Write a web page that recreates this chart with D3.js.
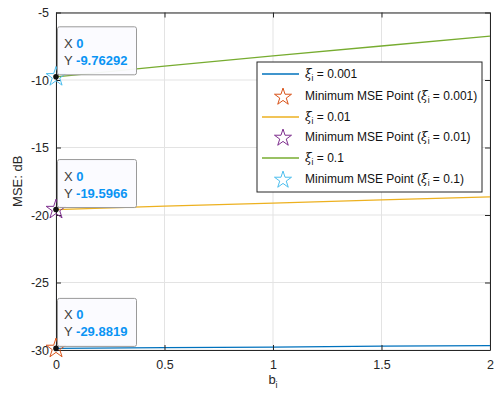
<!DOCTYPE html>
<html><head><meta charset="utf-8">
<script src="https://cdn.jsdelivr.net/npm/d3@7"></script>
<style>body{margin:0;background:#fff;} svg{font-family:"Liberation Sans",Arial,sans-serif;}</style>
</head><body><svg id="c" width="494" height="396"></svg>
<script>
const xs = [0, 0.5, 1, 1.5, 2];
const mse001 = [-29.8819, -29.83, -29.78, -29.72, -29.67];
const mse01 = [-19.5966, -19.35, -19.12, -18.88, -18.65];
const mse1 = [-9.76292, -8.97, -8.22, -7.48, -6.75];
const xTicks = [0, 0.5, 1, 1.5, 2];
const yTicks = [-30, -25, -20, -15, -10, -5];
const seriesNames = ["0.001", "0.01", "0.1"];
const minX = [0, 0, 0];
const minY = [-29.8819, -19.5966, -9.76292];
const minLabels = ["-29.8819", "-19.5966", "-9.76292"];

const lineColors = ["#0072BD", "#EDB120", "#77AC30"];
const starColors = ["#D95319", "#7E2F8E", "#4DBEEE"];
const series = [mse001, mse01, mse1];

const svg = d3.select("#c");
const L = 56, R = 490, T = 12.5, B = 350;
const x = d3.scaleLinear().domain([0, 2]).range([L, R]);
const y = d3.scaleLinear().domain([-30, -5]).range([B, T]);

const g = svg.append("g");
g.selectAll(".gx").data(xTicks).enter().append("line")
  .attr("x1", d => x(d)).attr("x2", d => x(d)).attr("y1", T).attr("y2", B)
  .attr("stroke", "#e3e3e3").attr("stroke-width", 1);
g.selectAll(".gy").data(yTicks).enter().append("line")
  .attr("y1", d => y(d)).attr("y2", d => y(d)).attr("x1", L).attr("x2", R)
  .attr("stroke", "#e3e3e3").attr("stroke-width", 1);

const line = d3.line().x((d, i) => x(xs[i])).y(d => y(d));
series.forEach((s, k) => {
  svg.append("path").datum(s).attr("d", line).attr("fill", "none")
    .attr("stroke", lineColors[k]).attr("stroke-width", 1.3);
});

const axCol = "#262626";
const xb = svg.append("g").attr("transform", `translate(0,${B})`)
  .call(d3.axisBottom(x).tickValues(xTicks).tickFormat(d3.format("")).tickSizeInner(-5).tickSizeOuter(0).tickPadding(10));
const xt = svg.append("g").attr("transform", `translate(0,${T})`)
  .call(d3.axisTop(x).tickValues(xTicks).tickFormat("").tickSizeInner(-5).tickSizeOuter(0));
const yl = svg.append("g").attr("transform", `translate(${L},0)`)
  .call(d3.axisLeft(y).tickValues(yTicks).tickFormat(d3.format("")).tickSizeInner(-5).tickSizeOuter(0).tickPadding(7));
const yr = svg.append("g").attr("transform", `translate(${R},0)`)
  .call(d3.axisRight(y).tickValues(yTicks).tickFormat("").tickSizeInner(-5).tickSizeOuter(0));
[xb, xt, yl, yr].forEach(a => {
  a.select(".domain").attr("stroke", axCol).attr("stroke-width", 1);
  a.selectAll(".tick line").attr("stroke", axCol);
  a.selectAll("text").attr("fill", axCol).attr("font-size", 12.5).attr("font-family", "Liberation Sans,Arial,sans-serif");
});
yl.selectAll("text").text(d => String(d));

const xl = svg.append("text").attr("x", x(1)).attr("y", 384).attr("text-anchor", "middle")
  .attr("font-size", 13).attr("fill", axCol);
xl.append("tspan").text("b");
xl.append("tspan").attr("font-size", 9).attr("dy", 4).text("i");
svg.append("text").attr("transform", `translate(22,${(T + B) / 2}) rotate(-90)`)
  .attr("text-anchor", "middle").attr("font-size", 13).attr("fill", axCol).text("MSE: dB");

const star = d3.symbol().type(d3.symbolStar).size(120);
minY.forEach((v, k) => {
  svg.append("path").attr("d", star).attr("transform", `translate(${x(minX[k])},${y(v)})`)
    .attr("fill", "none").attr("stroke", starColors[k]).attr("stroke-width", 1);
});

minY.forEach((v, k) => {
  const px = x(minX[k]), py = y(v);
  const gt = svg.append("g");
  gt.append("rect").attr("x", px + 1.5).attr("y", py - 50).attr("width", 79).attr("height", 48)
    .attr("rx", 2).attr("fill", "#fbfbff").attr("fill-opacity", 0.95).attr("stroke", "#9a9a9a").attr("stroke-width", 1);
  const t1 = gt.append("text").attr("x", px + 8).attr("y", py - 29).attr("font-size", 13);
  t1.append("tspan").attr("fill", "#404040").text("X ");
  t1.append("tspan").attr("fill", "#0a94f4").attr("font-weight", "bold").text(String(minX[k]));
  const t2 = gt.append("text").attr("x", px + 8).attr("y", py - 12).attr("font-size", 13);
  t2.append("tspan").attr("fill", "#404040").text("Y ");
  t2.append("tspan").attr("fill", "#0a94f4").attr("font-weight", "bold").text(minLabels[k]);
  gt.append("circle").attr("cx", px).attr("cy", py).attr("r", 2.8).attr("fill", "#111");
});

const lg = svg.append("g");
lg.append("rect").attr("x", 257).attr("y", 62).attr("width", 225).attr("height", 130)
  .attr("fill", "#fff").attr("stroke", axCol).attr("stroke-width", 1);
const rows = [74, 96, 117, 137, 158, 179];
function xiText(sel, tx, ty, prefix, val, suffix) {
  const t = sel.append("text").attr("x", tx).attr("y", ty + 4).attr("font-size", 12).attr("fill", "#111");
  if (prefix) t.append("tspan").text(prefix);
  t.append("tspan").attr("font-style", "italic").attr("font-family", "DejaVu Serif, serif").text("ξ");
  t.append("tspan").attr("font-size", 8.5).attr("dy", 3).text("i");
  t.append("tspan").attr("dy", -3).text(" = " + val + (suffix || ""));
}
seriesNames.forEach((n, k) => {
  const ry = rows[2 * k], sy = rows[2 * k + 1];
  lg.append("line").attr("x1", 262).attr("x2", 299).attr("y1", ry).attr("y2", ry)
    .attr("stroke", lineColors[k]).attr("stroke-width", 1.3);
  xiText(lg, 305, ry, null, n);
  lg.append("path").attr("d", d3.symbol().type(d3.symbolStar).size(90)).attr("transform", `translate(283,${sy + 1})`)
    .attr("fill", "none").attr("stroke", starColors[k]).attr("stroke-width", 1);
  xiText(lg, 305, sy, "Minimum MSE Point (", n, ")");
});
</script></body></html>
